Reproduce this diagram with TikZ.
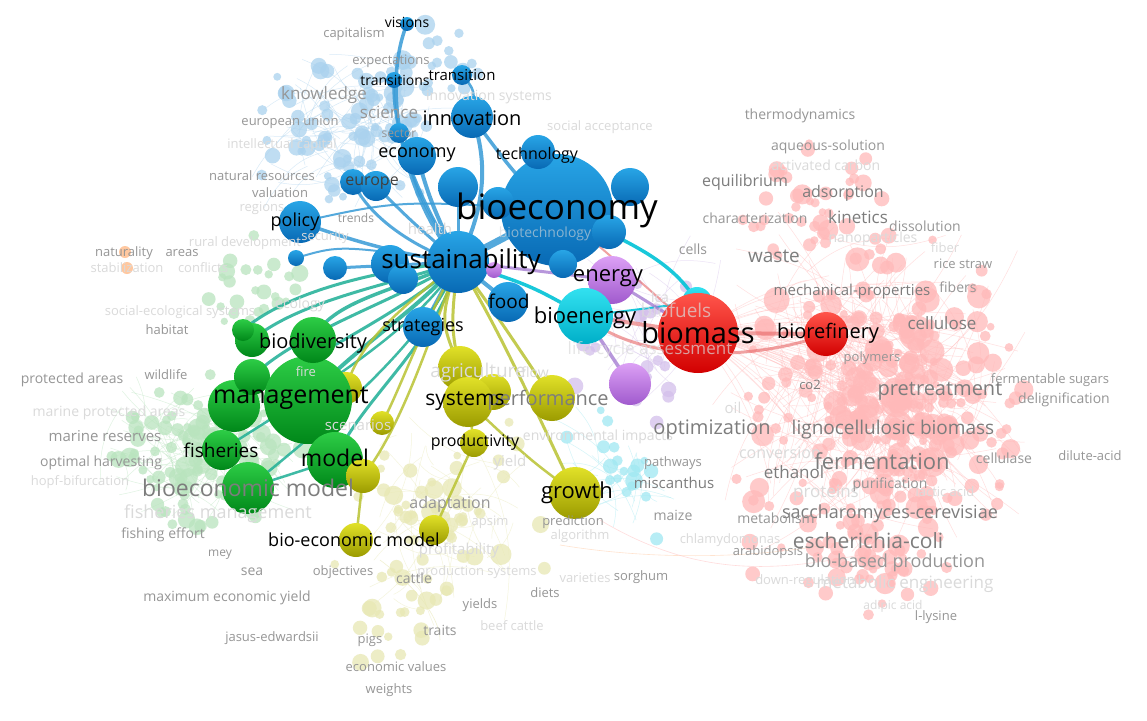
\documentclass[tikz,border=0pt]{standalone}
\usepackage{fontspec}
\setmainfont{Open Sans}
\pgfdeclarelayer{faint}\pgfdeclarelayer{edges}\pgfdeclarelayer{labels}
\pgfsetlayers{faint,edges,main,labels}
\definecolor{blueTop}{RGB}{40,165,230}
\definecolor{blueBot}{RGB}{8,105,180}
\definecolor{cyanTop}{RGB}{50,225,240}
\definecolor{cyanBot}{RGB}{0,175,200}
\definecolor{purTop}{RGB}{220,160,245}
\definecolor{purBot}{RGB}{160,90,205}
\definecolor{redTop}{RGB}{255,85,75}
\definecolor{redBot}{RGB}{210,0,0}
\definecolor{grnTop}{RGB}{45,205,70}
\definecolor{grnBot}{RGB}{0,135,25}
\definecolor{olvTop}{RGB}{225,225,40}
\definecolor{olvBot}{RGB}{155,155,0}
\definecolor{blueL}{RGB}{170,210,238}
\definecolor{redL}{RGB}{255,185,185}
\definecolor{grnL}{RGB}{185,228,190}
\definecolor{yelL}{RGB}{232,232,180}
\definecolor{purL}{RGB}{212,192,235}
\definecolor{cyanL}{RGB}{160,232,242}
\definecolor{orL}{RGB}{255,200,160}
\definecolor{blueE}{RGB}{55,155,215}
\definecolor{tealE}{RGB}{30,175,150}
\definecolor{olvE}{RGB}{185,195,50}
\definecolor{cyanE}{RGB}{0,195,215}
\definecolor{redE}{RGB}{230,100,100}
\definecolor{purE}{RGB}{165,125,210}
\definecolor{gA}{RGB}{125,125,125}
\definecolor{gB}{RGB}{150,150,150}
\definecolor{gC}{RGB}{218,218,218}
\newcommand\fz[1]{\fontsize{#1}{#1}\selectfont}
\newcommand\cloud[8]{%
  \pgfmathsetseed{#7}%
  \foreach \i in {1,...,#2}{%
    \pgfmathsetmacro\cpx{#3+#5*(rand+rand)}%
    \pgfmathsetmacro\cpy{#4+#6*(rand+rand)}%
    \pgfmathsetmacro\cpr{3.5+#8*rnd*rnd+2*rnd}%
    \fill[#1,opacity=.75] (\cpx,\cpy) circle (\cpr);
  }}
\newcommand\web[7]{%
  \pgfmathsetseed{#7}%
  \foreach \i in {1,...,#2}{%
    \pgfmathsetmacro\wax{#3+#5*(rand+rand)}%
    \pgfmathsetmacro\way{#4+#6*(rand+rand)}%
    \pgfmathsetmacro\wbx{#3+#5*(rand+rand)}%
    \pgfmathsetmacro\wby{#4+#6*(rand+rand)}%
    \draw[#1,opacity=.45,line width=.5] (\wax,\way) to[bend left=20] (\wbx,\wby);
  }}
\newcommand\hub[8]{%
  \pgfmathsetseed{#8}%
  \foreach \i in {1,...,#2}{%
    \pgfmathsetmacro\wbx{#5+#6*(rand+rand)}%
    \pgfmathsetmacro\wby{#7+#6*(rand+rand)}%
    \draw[#1,opacity=.4,line width=.6] (#3,#4) to[bend left=12] (\wbx,\wby);
  }}
\tikzset{
  ball/.style={circle,inner sep=0pt,draw=none},
  bB/.style={ball,top color=blueTop,bottom color=blueBot},
  bC/.style={ball,top color=cyanTop,bottom color=cyanBot},
  bP/.style={ball,top color=purTop,bottom color=purBot},
  bR/.style={ball,top color=redTop,bottom color=redBot},
  bG/.style={ball,top color=grnTop,bottom color=grnBot},
  bO/.style={ball,top color=olvTop,bottom color=olvBot},
  eB/.style={draw=blueE,line width=#1,opacity=.85},
  eT/.style={draw=tealE,line width=#1,opacity=.85},
  eO/.style={draw=olvE,line width=#1,opacity=.85},
  eC/.style={draw=cyanE,line width=#1,opacity=.9},
  eR/.style={draw=redE,line width=#1,opacity=.6},
  eP/.style={draw=purE,line width=#1,opacity=.8},
  tl/.style={inner sep=0pt,font=\fz{#1},text=black},
  gl/.style={inner sep=0pt,font=\fz{#1},text=gA},
  hl/.style={inner sep=0pt,font=\fz{#1},text=gB},
  fl/.style={inner sep=0pt,font=\fz{#1},text=gC},
}
\begin{document}
\begin{tikzpicture}[x=1pt,y=-1pt]
\path[use as bounding box] (0,0) rectangle (1147,720);
% ---------- main balls ----------
\node[bB,minimum size=112] (bioeco) at (557,210) {};
\node[bB,minimum size=62] (sust) at (458,262) {};
\node[bB,minimum size=42] (innov) at (472,117) {};
\node[bB,minimum size=38] (econ) at (417,156) {};
\node[bB,minimum size=26] (eurA) at (353,182) {};
\node[bB,minimum size=30] (eurB) at (376,186) {};
\node[bB,minimum size=42] (policy) at (300,222) {};
\node[bB,minimum size=34] (tech) at (538,152) {};
\node[bB,minimum size=38] (bx1) at (630,187) {};
\node[bB,minimum size=40] (bx2) at (458,187) {};
\node[bB,minimum size=32] (bx3) at (498,203) {};
\node[bB,minimum size=34] (bx4) at (609,232) {};
\node[bB,minimum size=28] (bx5) at (563,264) {};
\node[bB,minimum size=20] (trans) at (462,75) {};
\node[bB,minimum size=16] (transs) at (394,80) {};
\node[bB,minimum size=14] (vis) at (407,24) {};
\node[bB,minimum size=20] (sector) at (399,133) {};
\node[bB,minimum size=40] (food) at (508,302) {};
\node[bB,minimum size=40] (strat) at (423,327) {};
\node[bB,minimum size=38] (bx6) at (390,264) {};
\node[bB,minimum size=30] (bx7) at (403,279) {};
\node[bB,minimum size=24] (bx8) at (335,268) {};
\node[bB,minimum size=16] (bx9) at (296,258) {};
\node[bP,minimum size=48] (energy) at (612,280) {};
\node[bP,minimum size=42] (px1) at (630,384) {};
\node[bP,minimum size=16] (px2) at (494,270) {};
\node[bC,minimum size=56] (bioen) at (585,316) {};
\node[bC,minimum size=30] (cx1) at (697,302) {};
\node[bR,minimum size=80] (biomass) at (698,333) {};
\node[bR,minimum size=44] (bioref) at (826,334) {};
\node[bO,minimum size=32] (y2) at (346,388) {};
\node[bG,minimum size=52] (g1) at (234,406) {};
\node[bG,minimum size=36] (g2) at (252,377) {};
\node[bG,minimum size=88] (mgmt) at (308,400) {};
\node[bG,minimum size=34] (g3) at (252,340) {};
\node[bG,minimum size=22] (g4) at (243,330) {};
\node[bG,minimum size=46] (biodiv) at (313,340) {};
\node[bG,minimum size=40] (fish) at (222,450) {};
\node[bG,minimum size=52] (bemodel) at (248,488) {};
\node[bG,minimum size=56] (model) at (335,460) {};
\node[bO,minimum size=44] (y1) at (460,368) {};
\node[bO,minimum size=36] (y6) at (493,392) {};
\node[bO,minimum size=50] (sys) at (468,402) {};
\node[bO,minimum size=46] (perf) at (552,398) {};
\node[bO,minimum size=24] (y3) at (382,423) {};
\node[bO,minimum size=28] (prod) at (474,443) {};
\node[bO,minimum size=52] (growth) at (575,493) {};
\node[bO,minimum size=34] (y4) at (363,476) {};
\node[bO,minimum size=34] (bem2) at (356,540) {};
\node[bO,minimum size=30] (y5) at (434,530) {};
% ---------- faint background ----------
\begin{pgfonlayer}{faint}
\fill[white] (0,0) rectangle (1147,720);
\web{redL}{160}{870}{390}{85}{95}{11}
\hub{redL}{40}{698}{333}{880}{80}{400}{41}
\hub{redL}{30}{826}{334}{900}{70}{420}{42}
\web{blueL}{60}{350}{130}{55}{45}{12}
\web{grnL}{80}{200}{450}{55}{40}{13}
\web{yelL}{45}{440}{520}{50}{55}{14}
\web{purL}{25}{650}{330}{45}{50}{15}
\web{cyanL}{18}{620}{470}{40}{40}{16}
\draw[orL,opacity=.5,line width=.6] (560,545) .. controls (650,560) and (760,560) .. (850,540);
\draw[redL,opacity=.5,line width=.6] (600,520) .. controls (700,580) and (780,570) .. (860,555);
\draw[yelL,opacity=.6,line width=.6] (380,560) .. controls (420,590) and (440,620) .. (440,640);
\cloud{redL}{230}{880}{400}{80}{90}{21}{10}
\cloud{redL}{60}{890}{420}{45}{55}{32}{14}
\cloud{redL}{40}{820}{200}{45}{35}{22}{7}
\cloud{redL}{40}{880}{560}{45}{30}{23}{8}
\cloud{blueL}{75}{350}{130}{55}{45}{24}{7}
\cloud{blueL}{20}{420}{60}{40}{22}{25}{6}
\cloud{grnL}{110}{200}{450}{55}{40}{26}{8}
\cloud{grnL}{25}{255}{290}{28}{28}{27}{6}
\cloud{yelL}{55}{440}{520}{55}{50}{28}{7}
\cloud{yelL}{18}{400}{620}{22}{28}{29}{6}
\cloud{purL}{30}{650}{330}{45}{50}{30}{6}
\cloud{cyanL}{22}{620}{470}{40}{40}{31}{6}
\fill[orL] (125,252) circle (6) (127,268) circle (6);
\end{pgfonlayer}
% ---------- main edges ----------
\begin{pgfonlayer}{edges}
\draw[eB=3.5] (sust.center) .. controls (405,200) and (380,90) .. (vis.center);
\draw[eB=2.5] (sust.center) .. controls (420,200) and (390,130) .. (transs.center);
\draw[eB=2.5] (trans.center) .. controls (475,90) .. (innov.center);
\draw[eB=4] (innov.center) .. controls (492,170) and (480,220) .. (sust.center);
\draw[eB=3.5] (innov.center) .. controls (505,160) and (520,185) .. (bioeco.center);
\draw[eB=4] (econ.center) .. controls (430,200) .. (sust.center);
\draw[eB=3] (eurB.center) .. controls (410,220) .. (sust.center);
\draw[eB=3] (eurA.center) .. controls (370,220) and (420,250) .. (sust.center);
\draw[eB=3.5] (policy.center) .. controls (350,240) and (400,255) .. (sust.center);
\draw[eB=3] (bx8.center) -- (sust.center);
\draw[eB=2] (bx9.center) .. controls (340,245) .. (sust.center);
\draw[eB=7] (sust.center) -- (bioeco.center);
\draw[eB=4] (sust.center) -- (food.center);
\draw[eB=4] (sust.center) -- (strat.center);
\draw[eB=2.5] (sector.center) .. controls (420,200) .. (sust.center);
\draw[eB=3] (bx2.center) -- (sust.center);
\draw[eB=2] (policy.center) .. controls (400,200) .. (bioeco.center);
\draw[eT=3] (sust.center) .. controls (380,270) and (290,290) .. (g4.center);
\draw[eT=3] (sust.center) .. controls (390,285) and (300,300) .. (g3.center);
\draw[eT=3.5] (sust.center) .. controls (400,290) and (330,300) .. (biodiv.center);
\draw[eT=3] (sust.center) .. controls (400,300) and (300,330) .. (g2.center);
\draw[eT=3] (sust.center) .. controls (410,310) and (300,360) .. (g1.center);
\draw[eT=4] (sust.center) .. controls (420,310) and (350,350) .. (mgmt.center);
\draw[eT=2.5] (sust.center) .. controls (420,330) and (300,400) .. (fish.center);
\draw[eT=2.5] (sust.center) .. controls (430,340) and (320,430) .. (bemodel.center);
\draw[eT=3] (sust.center) .. controls (440,340) and (360,400) .. (model.center);
\draw[eT=2.5] (bemodel.center) -- (model.center);
\draw[eO=3] (sust.center) .. controls (440,320) .. (y1.center);
\draw[eO=3] (sust.center) .. controls (450,330) .. (sys.center);
\draw[eO=3] (sust.center) .. controls (500,320) .. (perf.center);
\draw[eO=3] (sust.center) .. controls (500,330) and (540,420) .. (growth.center);
\draw[eO=2.5] (sust.center) .. controls (400,310) and (360,340) .. (y2.center);
\draw[eO=2.5] (sust.center) .. controls (420,330) and (400,390) .. (y3.center);
\draw[eO=2.5] (sust.center) .. controls (430,340) and (400,430) .. (y4.center);
\draw[eO=2.5] (y4.center) -- (bem2.center);
\draw[eO=2.5] (y5.center) -- (prod.center);
\draw[eO=2.5] (prod.center) -- (sys.center);
\draw[eO=2.5] (growth.center) .. controls (530,460) .. (sys.center);
\draw[eO=2] (model.center) -- (y4.center);
\draw[eC=3.5] (sust.center) .. controls (530,285) .. (bioen.center);
\draw[eC=3.5] (bioeco.center) .. controls (640,245) and (675,265) .. (cx1.center);
\draw[eC=2] (bioen.center) -- (cx1.center);
\draw[eR=4] (bioen.center) -- (biomass.center);
\draw[eR=3] (bioen.center) .. controls (640,365) and (760,360) .. (bioref.center);
\draw[eR=4] (biomass.center) -- (bioref.center);
\draw[eR=2] (bioeco.center) .. controls (650,290) .. (biomass.center);
\draw[eP=3.5] (bioen.center) -- (px1.center);
\draw[eP=3] (sust.center) .. controls (530,270) .. (energy.center);
\draw[eP=3] (energy.center) -- (biomass.center);
\end{pgfonlayer}
% ---------- labels ----------
\begin{pgfonlayer}{labels}
% faint labels
\node[fl=14] (fA1) at (489,97) {innovation systems};
\node[fl=13] (fA2) at (600,127) {social acceptance};
\node[fl=13] (fA3) at (282,145) {intellectual capital};
\node[fl=13] (fA4) at (262,208) {regions};
\node[fl=13] (fA5) at (325,237) {security};
\node[fl=15] (fA6) at (430,229) {health};
\node[fl=14,opacity=.6] (fA7) at (545,234) {biotechnology};
\node[fl=13] (fA8) at (127,268) {stabilization};
\node[fl=13] (fA9) at (203,268) {conflicts};
\node[fl=13] (fA10) at (245,243) {rural development};
\node[fl=14] (fA11) at (300,305) {ecology};
\node[fl=13] (fA12) at (180,312) {social-ecological systems};
\node[fl=14] (fA13) at (109,413) {marine protected areas};
\node[fl=13] (fA14) at (80,482) {hopf-bifurcation};
\node[fl=18] (fA15) at (218,514) {fisheries management};
\node[fl=13] (fA16) at (306,372) {fire};
\node[fl=15] (fA17) at (358,425) {scenarios};
\node[fl=19] (fA18) at (478,373) {agriculture};
\node[fl=14] (fA19) at (535,372) {flow};
\node[fl=14] (fA20) at (598,437) {environmental impacts};
\node[fl=15] (fA21) at (510,463) {yield};
\node[fl=15] (fA22) at (459,551) {profitability};
\node[fl=13] (fA23) at (477,572) {production systems};
\node[fl=13] (fA24) at (490,522) {apsim};
\node[fl=13] (fA25) at (580,536) {algorithm};
\node[fl=13] (fA26) at (585,578) {varieties};
\node[fl=13] (fA27) at (512,626) {beef cattle};
\node[fl=19,opacity=.7] (fA28) at (676,310) {biofuels};
\node[fl=14] (fA29) at (660,297) {lca};
\node[fl=17,opacity=.7] (fA30) at (650,350) {life cycle assessment};
\node[fl=14] (fA31) at (826,165) {activated carbon};
\node[fl=14] (fA32) at (873,239) {nanoparticles};
\node[fl=13] (fA33) at (945,248) {fiber};
\node[fl=16] (fA34) at (780,453) {conversion};
\node[fl=17] (fA35) at (826,493) {proteins};
\node[fl=13] (fA36) at (945,492) {lactic acid};
\node[fl=13] (fA37) at (730,540) {chlamydomonas};
\node[fl=13] (fA38) at (805,581) {down-regulation};
\node[fl=12] (fA39) at (893,606) {adipic acid};
\node[fl=17] (fA40) at (905,584) {metabolic engineering};
% gray labels
\node[gl=23] (tBem) at (248,488) {bioeconomic model};
\node[gl=20] (tPre) at (940,391) {pretreatment};
\node[gl=22] (tFer) at (882,461) {fermentation};
\node[gl=21] (tEsc) at (868,541) {escherichia-coli};
\node[gl=20] (tOpt) at (712,430) {optimization};
\node[gl=19] (tLig) at (893,430) {lignocellulosic biomass};
\node[gl=18] (tSac) at (890,514) {saccharomyces-cerevisiae};
\node[gl=19] (tWas) at (774,256) {waste};
\node[gl=20] (tPerf) at (548,400) {performance};
\node[gl=17] (tCel) at (942,323) {cellulose};
\node[gl=16] (tAds) at (843,193) {adsorption};
\node[gl=17] (tKin) at (858,217) {kinetics};
\node[hl=17] (tKno) at (324,95) {knowledge};
\node[hl=17] (tSci) at (389,112) {science};
\node[gl=17] (tEth) at (794,472) {ethanol};
\node[hl=16] (tAda) at (450,504) {adaptation};
\node[gl=16] (tEqu) at (745,182) {equilibrium};
\node[gl=15] (tMec) at (852,292) {mechanical-properties};
\node[gl=15] (tMis) at (674,483) {miscanthus};
\node[hl=18] (tBbp) at (895,563) {bio-based production};
\node[hl=14] (tThe) at (800,116) {thermodynamics};
\node[hl=14] (tAqu) at (828,147) {aqueous-solution};
\node[hl=14] (tCha) at (755,218) {characterization};
\node[hl=14] (tDis) at (925,226) {dissolution};
\node[hl=14] (tCells) at (693,249) {cells};
\node[hl=13] (tRic) at (963,264) {rice straw};
\node[hl=14] (tFib) at (958,287) {fibers};
\node[hl=13] (tPol) at (872,358) {polymers};
\node[gl=13] (tCo2) at (810,385) {co2};
\node[fl=15] (tOil) at (733,408) {oil};
\node[hl=13] (tFsu) at (1050,380) {fermentable sugars};
\node[hl=14] (tDel) at (1064,400) {delignification};
\node[hl=14] (tClase) at (1004,458) {cellulase};
\node[hl=13] (tDil) at (1090,456) {dilute-acid};
\node[hl=14] (tPur) at (890,485) {purification};
\node[hl=14] (tMet) at (776,518) {metabolism};
\node[hl=13] (tAra) at (768,552) {arabidopsis};
\node[hl=13] (tLly) at (936,617) {l-lysine};
\node[hl=13] (tPat) at (673,463) {pathways};
\node[hl=14] (tMai) at (673,515) {maize};
\node[hl=13] (tPre2) at (573,522) {prediction};
\node[hl=13] (tSor) at (641,577) {sorghum};
\node[hl=13] (tDie) at (545,593) {diets};
\node[hl=13] (tYie) at (480,605) {yields};
\node[hl=14] (tTra) at (440,630) {traits};
\node[hl=13] (tPig) at (370,640) {pigs};
\node[hl=13] (tEcv) at (396,667) {economic values};
\node[hl=13] (tWei) at (389,690) {weights};
\node[hl=14] (tCat) at (414,578) {cattle};
\node[hl=13] (tObj) at (343,572) {objectives};
\node[hl=13] (tJas) at (272,638) {jasus-edwardsii};
\node[hl=14] (tMey2) at (227,598) {maximum economic yield};
\node[hl=14] (tSea) at (252,572) {sea};
\node[hl=12] (tMey) at (220,555) {mey};
\node[hl=14] (tFie) at (163,535) {fishing effort};
\node[hl=14] (tOpth) at (101,463) {optimal harvesting};
\node[hl=15] (tMar) at (105,436) {marine reserves};
\node[hl=14] (tPro) at (72,380) {protected areas};
\node[hl=13] (tWil) at (166,375) {wildlife};
\node[hl=13] (tHab) at (167,330) {habitat};
\node[hl=13] (tNat) at (124,253) {naturality};
\node[hl=13] (tAre) at (182,253) {areas};
\node[hl=13] (tCap) at (354,34) {capitalism};
\node[hl=13] (tExp) at (391,61) {expectations};
\node[hl=13] (tEU) at (290,122) {european union};
\node[hl=12] (tSec) at (399,134) {sector};
\node[hl=13] (tNatr) at (262,176) {natural resources};
\node[hl=13] (tVal) at (280,193) {valuation};
\node[hl=12] (tTre) at (356,218) {trends};
% main labels
\node[tl=14] (tVis) at (407,22) {visions};
\node[tl=15] (tTrans) at (462,75) {transition};
\node[tl=14] (tTranss) at (395,80) {transitions};
\node[tl=20] (tInn) at (472,118) {innovation};
\node[tl=18] (tEco) at (417,155) {economy};
\node[tl=16] (tTec) at (537,155) {technology};
\node[tl=16,text=black!75] (tEur) at (372,183) {europe};
\node[tl=18] (tPol2) at (295,222) {policy};
\node[tl=35] (tBioeco) at (557,210) {bioeconomy};
\node[tl=26] (tSus) at (461,262) {sustainability};
\node[tl=22] (tEne) at (608,278) {energy};
\node[tl=19] (tFoo) at (509,301) {food};
\node[tl=22] (tBien) at (585,318) {bioenergy};
\node[tl=29] (tBiom) at (698,333) {biomass};
\node[tl=20] (tBior) at (828,333) {biorefinery};
\node[tl=18] (tStr) at (423,327) {strategies};
\node[tl=20] (tBiod) at (313,343) {biodiversity};
\node[tl=25] (tMan) at (291,398) {management};
\node[tl=21] (tSys) at (465,401) {systems};
\node[tl=16] (tProd) at (475,442) {productivity};
\node[tl=19] (tFis) at (221,450) {fisheries};
\node[tl=23] (tMod) at (335,458) {model};
\node[tl=22] (tGro) at (577,493) {growth};
\node[tl=18] (tBem2) at (354,540) {bio-economic model};
\end{pgfonlayer}
\end{tikzpicture}
\end{document}
